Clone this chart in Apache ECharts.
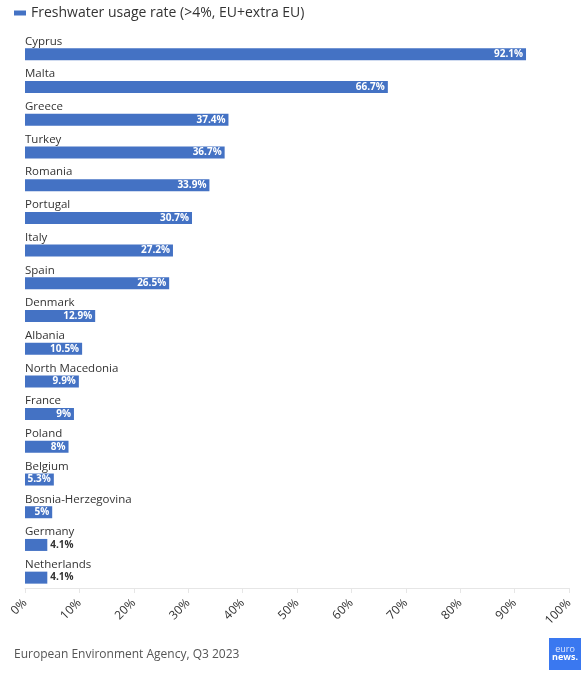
<!DOCTYPE html>
<html>
<head>
<meta charset="utf-8">
<script src="https://cdn.jsdelivr.net/npm/echarts@6/dist/echarts.min.js"></script>
<style>
html,body{margin:0;padding:0;background:#fff;}
#chart{width:584px;height:676px;}
</style>
</head>
<body>
<div id="chart"></div>
<script>
const categories = ["Cyprus","Malta","Greece","Turkey","Romania","Portugal","Italy","Spain","Denmark","Albania","North Macedonia","France","Poland","Belgium","Bosnia-Herzegovina","Germany","Netherlands"];
const values = [92.1,66.7,37.4,36.7,33.9,30.7,27.2,26.5,12.9,10.5,9.9,9,8,5.3,5,4.1,4.1];
const xTicks = [0,10,20,30,40,50,60,70,80,90,100];
const seriesName = "Freshwater usage rate (>4%, EU+extra EU)";
const sourceText = "European Environment Agency, Q3 2023";

const FONT = "'Open Sans', sans-serif";
const BLUE = "#4472c4";

const chart = echarts.init(document.getElementById('chart'), null, {renderer:'canvas'});
const data = values.map(v => {
  const small = v < 5;
  return {
    value: v,
    label: small
      ? {position: 'right', color: '#333', distance: 3}
      : {position: 'insideRight', color: '#fff', distance: 3}
  };
});

chart.setOption({
  animation: false,
  textStyle: {fontFamily: FONT},
  legend: {
    left: 14, top: 6, padding: 0,
    icon: 'rect', itemWidth: 12, itemHeight: 5, itemGap: 4,
    textStyle: {fontSize: 14, color: '#333', fontFamily: FONT},
    data: [seriesName]
  },
  grid: {left: 25, right: 15, top: 38, bottom: 82, containLabel: false},
  xAxis: {
    type: 'value', min: 0, max: 100, interval: 10,
    offset: -6,
    axisLine: {show: true, lineStyle: {color: '#e6e6e6'}},
    axisTick: {show: true, length: 5, lineStyle: {color: '#e6e6e6'}},
    splitLine: {show: false},
    axisLabel: {
      rotate: 45, margin: 13, color: '#333', fontSize: 12, fontFamily: FONT,
      formatter: v => xTicks.includes(v) ? v + '%' : ''
    }
  },
  yAxis: {
    type: 'category', data: categories, inverse: true,
    axisLine: {show: false}, axisTick: {show: false},
    axisLabel: {
      inside: true, margin: 0, align: 'left', verticalAlign: 'bottom',
      padding: [0, 0, 7, 0], color: '#333', fontSize: 11.5, fontFamily: FONT
    }
  },
  series: [{
    name: seriesName,
    type: 'bar',
    barWidth: 12,
    itemStyle: {color: BLUE},
    label: {
      show: true, fontSize: 10, fontWeight: 'bold', fontFamily: FONT,
      formatter: p => p.value + '%'
    },
    data: data
  }],
  graphic: [
    {type: 'text', left: 14, top: 649, style: {text: sourceText, fill: '#555', fontSize: 12, fontFamily: FONT}},
    {type: 'rect', left: 549, top: 638, shape: {width: 32, height: 32}, style: {fill: '#3a78f0'}},
    {type: 'text', x: 565, y: 649, style: {text: 'euro', fill: '#dfe8ff', fontSize: 9, fontFamily: FONT, align: 'center', verticalAlign: 'middle'}},
    {type: 'text', x: 565, y: 657, style: {text: 'news.', fill: '#fff', fontSize: 9, fontWeight: 'bold', fontFamily: FONT, align: 'center', verticalAlign: 'middle'}}
  ]
});
</script>
</body>
</html>
